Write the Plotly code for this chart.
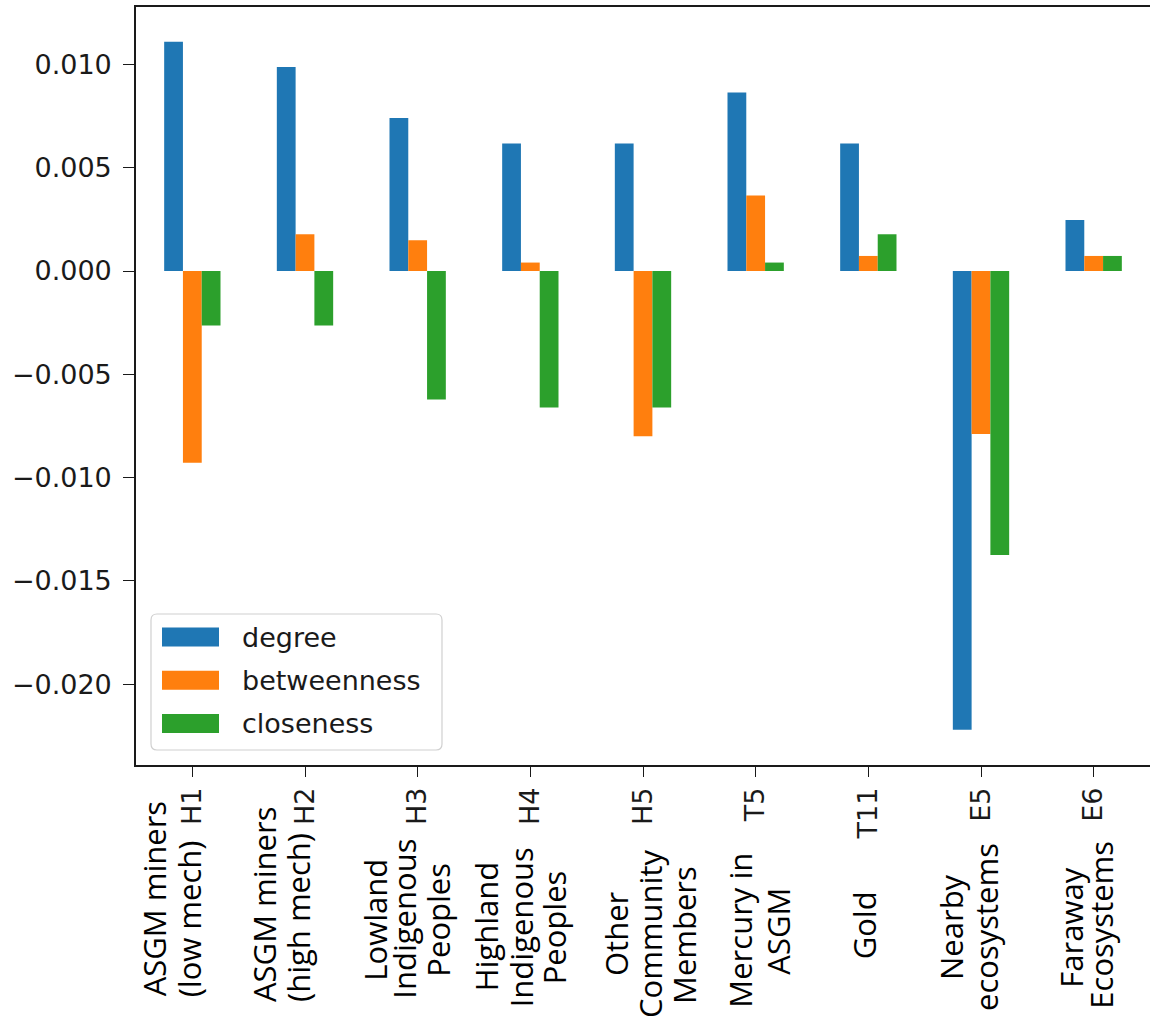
import plotly.graph_objects as go

# ---- data -------------------------------------------------------------
codes = ["H1", "H2", "H3", "H4", "H5", "T5", "T11", "E5", "E6"]
names = [
    ["ASGM miners", "(low mech)"],
    ["ASGM miners", "(high mech)"],
    ["Lowland", "Indigenous", "Peoples"],
    ["Highland", "Indigenous", "Peoples"],
    ["Other", "Community", "Members"],
    ["Mercury in", "ASGM"],
    ["Gold"],
    ["Nearby", "ecosystems"],
    ["Faraway", "Ecosystems"],
]
degree = [0.0111, 0.00988, 0.00741, 0.00617, 0.00617, 0.00864, 0.00617, -0.0222, 0.00247]
betweenness = [-0.00928, 0.00178, 0.00149, 0.00041, -0.00800, 0.00366, 0.00073, -0.00789, 0.00073]
closeness = [-0.00264, -0.00264, -0.00622, -0.00660, -0.00660, 0.00041, 0.00178, -0.01375, 0.00073]
series_names = ["degree", "betweenness", "closeness"]
y_ticks = [-0.020, -0.015, -0.010, -0.005, 0.000, 0.005, 0.010]

# ---- styling / layout geometry -------------------------------------------
colors = ["#1f77b4", "#ff7f0e", "#2ca02c"]
W, H = 1150, 1023
ML, MR, MT, MB = 136, 0, 7, 258
PW, PH = W - ML - MR, H - MT - MB
TICK_FONT = dict(family="DejaVu Sans", size=27, color="#1a1a1a")
NAME_FONT = dict(family="Open Sans", size=31, color="#000000")


def px_x(p):
    return (p - ML) / PW


def px_y(p):
    return (H - MB - p) / PH


# per-line placement of the descriptive names under each code:
# (baseline offset from the tick in px, vertical centre in px)
name_place = [
    [(-26, 899), (9, 919)],
    [(-29, 905), (5, 918)],
    [(-31, 920), (-2, 919), (32, 920)],
    [(-32, 926), (3, 927), (36, 927)],
    [(-15, 934), (19, 934), (53, 935)],
    [(-4, 930), (34, 931)],
    [(8, 925)],
    [(-18, 927), (17, 927)],
    [(-11, 928), (19, 925)],
]

fig = go.Figure()
for nm, vals, col in zip(series_names, [degree, betweenness, closeness], colors):
    fig.add_trace(go.Bar(
        x=codes, y=vals, name=nm, marker=dict(color=col, line=dict(width=0)),
        showlegend=False,
    ))

fig.update_layout(
    width=W, height=H,
    margin=dict(l=ML, r=MR, t=MT, b=MB, pad=0),
    paper_bgcolor="white", plot_bgcolor="white",
    barmode="group", bargap=0.5, bargroupgap=0,
    xaxis=dict(
        type="category", range=[-0.5, len(codes) - 0.5],
        showline=True, mirror=True, linecolor="#1a1a1a", linewidth=1.6,
        ticks="outside", ticklen=10, tickwidth=1.4, tickcolor="#1a1a1a",
        tickangle=-90, tickfont=TICK_FONT, ticklabelstandoff=0,
        showgrid=False, zeroline=False,
    ),
    yaxis=dict(
        range=[-0.02391, 0.01278],
        tickvals=y_ticks, tickformat=".3f",
        showline=True, mirror=False, linecolor="#1a1a1a", linewidth=1.6,
        ticks="outside", ticklen=11, tickwidth=1.4, tickcolor="#1a1a1a",
        tickfont=TICK_FONT, ticklabelstandoff=6,
        showgrid=False, zeroline=False,
    ),
)

# descriptive names, one annotation per line, rotated to read upwards
BASE_TO_CENTRE = 12
for i, (lines, places) in enumerate(zip(names, name_place)):
    for text, (off, cy) in zip(lines, places):
        fig.add_annotation(
            x=codes[i], xref="x", xshift=off - BASE_TO_CENTRE,
            y=px_y(cy), yref="paper",
            text=text, textangle=-90, showarrow=False,
            xanchor="center", yanchor="middle",
            font=NAME_FONT,
        )


# legend box drawn in paper space
def rounded_rect(x0, y0, x1, y1, r):
    return (
        f"M {px_x(x0 + r)} {px_y(y0)} L {px_x(x1 - r)} {px_y(y0)} "
        f"Q {px_x(x1)} {px_y(y0)} {px_x(x1)} {px_y(y0 + r)} "
        f"L {px_x(x1)} {px_y(y1 - r)} "
        f"Q {px_x(x1)} {px_y(y1)} {px_x(x1 - r)} {px_y(y1)} "
        f"L {px_x(x0 + r)} {px_y(y1)} "
        f"Q {px_x(x0)} {px_y(y1)} {px_x(x0)} {px_y(y1 - r)} "
        f"L {px_x(x0)} {px_y(y0 + r)} "
        f"Q {px_x(x0)} {px_y(y0)} {px_x(x0 + r)} {px_y(y0)} Z"
    )


fig.add_shape(
    type="path", xref="paper", yref="paper",
    path=rounded_rect(151, 614, 442, 750, 6),
    line=dict(color="#d0d0d0", width=1.2),
    fillcolor="rgba(255,255,255,0.8)", layer="above",
)
for k, (nm, col) in enumerate(zip(series_names, colors)):
    cy = 637 + 43.3 * k
    fig.add_shape(
        type="rect", xref="paper", yref="paper",
        x0=px_x(162), x1=px_x(219), y0=px_y(cy + 9.5), y1=px_y(cy - 9.5),
        fillcolor=col, line=dict(width=0), layer="above",
    )
    fig.add_annotation(
        x=px_x(240), xref="paper", y=px_y(cy), yref="paper",
        text=nm, showarrow=False, xanchor="left", yanchor="middle",
        font=TICK_FONT,
    )

fig.write_html("out.html")
